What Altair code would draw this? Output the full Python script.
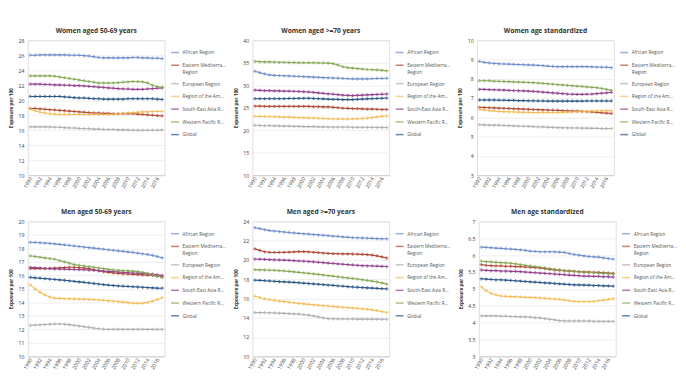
import altair as alt
import numpy as np
import pandas as pd

YEARS = list(range(1990, 2018))
YEAR_TICKS = list(range(1990, 2018, 2))
REGIONS = ["African Region", "Eastern Mediterranean Region", "European Region",
           "Region of the Americas", "South-East Asia Region", "Western Pacific Region", "Global"]
COLORS = ["#6F8FCB", "#B04A33", "#AFAFAF", "#F4BE5A", "#93408F", "#86AA57", "#2A5687"]

# ---- Women aged 50-69 years ----
w50_afr = [26.0, 26.0, 26.05, 26.05, 26.05, 26.05, 26.05, 26.05, 26.0, 26.0, 26.0, 25.95, 25.9, 25.8,
           25.7, 25.65, 25.65, 25.65, 25.65, 25.65, 25.65, 25.7, 25.7, 25.65, 25.65, 25.6, 25.6, 25.55]
w50_emr = [18.9, 18.9, 18.85, 18.8, 18.75, 18.7, 18.65, 18.6, 18.55, 18.5, 18.45, 18.4, 18.35, 18.3,
           18.3, 18.25, 18.25, 18.2, 18.2, 18.2, 18.2, 18.2, 18.15, 18.1, 18.05, 18.0, 17.95, 17.9]
w50_eur = [16.45, 16.45, 16.45, 16.45, 16.45, 16.4, 16.4, 16.35, 16.3, 16.3, 16.25, 16.2, 16.2, 16.15,
           16.15, 16.1, 16.1, 16.1, 16.05, 16.05, 16.05, 16.0, 16.0, 16.0, 16.0, 16.0, 16.0, 16.05]
w50_amr = [18.8, 18.6, 18.4, 18.3, 18.2, 18.15, 18.1, 18.1, 18.1, 18.1, 18.1, 18.1, 18.1, 18.1,
           18.1, 18.1, 18.1, 18.15, 18.2, 18.25, 18.3, 18.35, 18.4, 18.45, 18.45, 18.5, 18.5, 18.5]
w50_sea = [22.15, 22.15, 22.15, 22.1, 22.1, 22.05, 22.05, 22.0, 22.0, 21.95, 21.95, 21.9, 21.85, 21.8,
           21.75, 21.7, 21.65, 21.6, 21.55, 21.5, 21.5, 21.45, 21.45, 21.45, 21.5, 21.55, 21.6, 21.65]
w50_wpr = [23.25, 23.25, 23.25, 23.25, 23.25, 23.2, 23.1, 23.0, 22.9, 22.8, 22.7, 22.6, 22.5, 22.4,
           22.3, 22.3, 22.3, 22.3, 22.35, 22.4, 22.45, 22.5, 22.5, 22.45, 22.3, 22.0, 21.8, 21.7]
w50_glb = [20.5, 20.5, 20.5, 20.5, 20.5, 20.5, 20.5, 20.45, 20.4, 20.35, 20.3, 20.3, 20.25, 20.2,
           20.2, 20.15, 20.15, 20.15, 20.15, 20.15, 20.2, 20.2, 20.2, 20.2, 20.2, 20.2, 20.15, 20.1]

# ---- Women aged >=70 years ----
w70_afr = [33.1, 32.8, 32.5, 32.3, 32.2, 32.15, 32.1, 32.05, 32.0, 31.95, 31.9, 31.85, 31.8, 31.75,
           31.7, 31.65, 31.6, 31.55, 31.5, 31.45, 31.4, 31.4, 31.4, 31.4, 31.45, 31.5, 31.5, 31.55]
w70_emr = [25.35, 25.35, 25.3, 25.3, 25.3, 25.3, 25.3, 25.3, 25.3, 25.3, 25.3, 25.3, 25.25, 25.25,
           25.2, 25.2, 25.1, 25.0, 24.9, 24.85, 24.8, 24.8, 24.75, 24.7, 24.7, 24.65, 24.6, 24.6]
w70_eur = [21.1, 21.05, 21.0, 21.0, 20.95, 20.95, 20.9, 20.9, 20.85, 20.85, 20.8, 20.8, 20.8, 20.75,
           20.75, 20.7, 20.7, 20.7, 20.7, 20.7, 20.65, 20.65, 20.65, 20.65, 20.65, 20.6, 20.6, 20.6]
w70_amr = [23.1, 23.1, 23.05, 23.0, 23.0, 22.95, 22.9, 22.9, 22.85, 22.8, 22.8, 22.75, 22.7, 22.65,
           22.6, 22.55, 22.5, 22.5, 22.5, 22.5, 22.5, 22.55, 22.6, 22.7, 22.8, 22.95, 23.1, 23.2]
w70_sea = [28.9, 28.85, 28.8, 28.8, 28.75, 28.75, 28.7, 28.7, 28.65, 28.6, 28.55, 28.5, 28.4, 28.3,
           28.2, 28.1, 28.0, 27.9, 27.8, 27.75, 27.7, 27.75, 27.8, 27.85, 27.9, 27.95, 28.0, 28.05]
w70_wpr = [35.3, 35.25, 35.2, 35.2, 35.15, 35.1, 35.1, 35.05, 35.05, 35.0, 35.0, 35.0, 35.0, 34.95,
           34.95, 34.9, 34.8, 34.5, 34.1, 33.9, 33.8, 33.7, 33.6, 33.5, 33.45, 33.4, 33.3, 33.2]
w70_glb = [27.0, 27.0, 27.0, 27.0, 27.0, 27.0, 27.0, 27.05, 27.05, 27.1, 27.1, 27.1, 27.05, 27.0,
           26.95, 26.9, 26.85, 26.85, 26.8, 26.8, 26.8, 26.85, 26.9, 26.95, 27.0, 27.05, 27.1, 27.15]

# ---- Women age standardized ----
was_afr = [8.9, 8.85, 8.82, 8.8, 8.78, 8.77, 8.76, 8.75, 8.74, 8.73, 8.72, 8.71, 8.7, 8.68,
           8.66, 8.64, 8.63, 8.63, 8.63, 8.63, 8.63, 8.63, 8.63, 8.62, 8.61, 8.6, 8.6, 8.58]
was_emr = [6.52, 6.51, 6.5, 6.49, 6.48, 6.47, 6.46, 6.45, 6.44, 6.43, 6.42, 6.41, 6.4, 6.39,
           6.38, 6.37, 6.36, 6.35, 6.34, 6.33, 6.32, 6.31, 6.3, 6.28, 6.26, 6.24, 6.22, 6.2]
was_eur = [5.62, 5.61, 5.6, 5.6, 5.59, 5.58, 5.57, 5.56, 5.55, 5.54, 5.53, 5.52, 5.51, 5.5,
           5.49, 5.48, 5.47, 5.46, 5.46, 5.45, 5.45, 5.44, 5.44, 5.43, 5.43, 5.42, 5.42, 5.42]
was_amr = [6.42, 6.38, 6.35, 6.33, 6.31, 6.3, 6.29, 6.28, 6.27, 6.26, 6.26, 6.25, 6.25, 6.25,
           6.25, 6.25, 6.25, 6.26, 6.27, 6.28, 6.29, 6.3, 6.31, 6.32, 6.33, 6.34, 6.35, 6.35]
was_sea = [7.45, 7.45, 7.44, 7.43, 7.42, 7.41, 7.4, 7.39, 7.38, 7.37, 7.36, 7.35, 7.33, 7.31,
           7.29, 7.27, 7.25, 7.23, 7.21, 7.2, 7.19, 7.19, 7.2, 7.21, 7.23, 7.25, 7.27, 7.3]
was_wpr = [7.9, 7.9, 7.9, 7.88, 7.87, 7.86, 7.85, 7.84, 7.83, 7.82, 7.81, 7.8, 7.78, 7.76,
           7.74, 7.72, 7.7, 7.68, 7.66, 7.64, 7.62, 7.6, 7.58, 7.56, 7.54, 7.5, 7.45, 7.4]
was_glb = [6.9, 6.9, 6.9, 6.9, 6.89, 6.89, 6.88, 6.88, 6.87, 6.87, 6.86, 6.86, 6.85, 6.85,
           6.84, 6.84, 6.84, 6.84, 6.84, 6.84, 6.84, 6.84, 6.85, 6.85, 6.85, 6.85, 6.85, 6.85]

# ---- Men aged 50-69 years ----
m50_afr = [18.45, 18.44, 18.42, 18.4, 18.37, 18.34, 18.3, 18.26, 18.22, 18.18, 18.14, 18.1, 18.06, 18.02,
           17.98, 17.94, 17.9, 17.86, 17.82, 17.78, 17.74, 17.7, 17.65, 17.6, 17.55, 17.48, 17.4, 17.3]
m50_emr = [16.5, 16.5, 16.5, 16.5, 16.52, 16.54, 16.56, 16.58, 16.6, 16.6, 16.58, 16.55, 16.5, 16.42,
           16.35, 16.28, 16.22, 16.18, 16.15, 16.12, 16.1, 16.08, 16.06, 16.04, 16.02, 16.0, 15.95, 15.9]
m50_eur = [12.3, 12.32, 12.34, 12.36, 12.38, 12.4, 12.4, 12.38, 12.35, 12.3, 12.25, 12.2, 12.15, 12.1,
           12.05, 12.02, 12.0, 12.0, 12.0, 12.0, 12.0, 12.0, 12.0, 12.0, 12.0, 12.0, 12.0, 12.0]
m50_amr = [15.3, 15.0, 14.75, 14.55, 14.4, 14.32, 14.3, 14.28, 14.27, 14.26, 14.25, 14.24, 14.22, 14.2,
           14.18, 14.15, 14.12, 14.1, 14.06, 14.02, 13.98, 13.95, 13.93, 13.95, 14.0, 14.1, 14.22, 14.35]
m50_sea = [16.6, 16.58, 16.55, 16.52, 16.5, 16.48, 16.47, 16.46, 16.45, 16.44, 16.43, 16.42, 16.4, 16.38,
           16.35, 16.32, 16.3, 16.28, 16.25, 16.22, 16.2, 16.18, 16.16, 16.14, 16.12, 16.1, 16.05, 16.0]
m50_wpr = [17.45, 17.4, 17.35, 17.3, 17.25, 17.2, 17.1, 17.0, 16.9, 16.8, 16.75, 16.7, 16.65, 16.6,
           16.55, 16.5, 16.45, 16.4, 16.38, 16.36, 16.34, 16.32, 16.28, 16.22, 16.15, 16.05, 15.95, 15.85]
m50_glb = [15.85, 15.82, 15.79, 15.76, 15.73, 15.7, 15.67, 15.64, 15.6, 15.56, 15.52, 15.48, 15.44, 15.4,
           15.36, 15.32, 15.28, 15.25, 15.22, 15.2, 15.18, 15.16, 15.14, 15.12, 15.1, 15.08, 15.06, 15.05]

# ---- Men aged >=70 years ----
m70_afr = [23.35, 23.25, 23.15, 23.05, 23.0, 22.95, 22.9, 22.85, 22.8, 22.76, 22.72, 22.68, 22.64, 22.6,
           22.56, 22.52, 22.48, 22.44, 22.4, 22.36, 22.32, 22.3, 22.28, 22.26, 22.24, 22.22, 22.2, 22.2]
m70_emr = [21.15, 21.0, 20.85, 20.8, 20.78, 20.78, 20.8, 20.82, 20.84, 20.86, 20.86, 20.84, 20.8, 20.76,
           20.72, 20.68, 20.66, 20.65, 20.64, 20.63, 20.62, 20.6, 20.58, 20.55, 20.5, 20.42, 20.32, 20.2]
m70_eur = [14.55, 14.54, 14.53, 14.52, 14.5, 14.48, 14.46, 14.44, 14.41, 14.38, 14.34, 14.28, 14.2, 14.1,
           14.0, 13.92, 13.9, 13.88, 13.88, 13.88, 13.88, 13.87, 13.87, 13.86, 13.86, 13.85, 13.85, 13.85]
m70_amr = [16.25, 16.1, 15.98, 15.88, 15.8, 15.74, 15.68, 15.62, 15.56, 15.5, 15.45, 15.4, 15.35, 15.3,
           15.26, 15.22, 15.18, 15.14, 15.1, 15.06, 15.02, 14.98, 14.94, 14.88, 14.82, 14.74, 14.65, 14.55]
m70_sea = [20.1, 20.08, 20.06, 20.04, 20.02, 20.0, 19.98, 19.96, 19.93, 19.9, 19.87, 19.84, 19.8, 19.76,
           19.72, 19.68, 19.64, 19.6, 19.56, 19.52, 19.48, 19.45, 19.42, 19.4, 19.38, 19.36, 19.34, 19.32]
m70_wpr = [19.0, 18.98, 18.96, 18.94, 18.92, 18.9, 18.86, 18.82, 18.77, 18.72, 18.67, 18.62, 18.56, 18.5,
           18.44, 18.38, 18.32, 18.26, 18.2, 18.14, 18.08, 18.02, 17.95, 17.88, 17.8, 17.72, 17.62, 17.5]
m70_glb = [17.9, 17.88, 17.85, 17.82, 17.79, 17.76, 17.73, 17.7, 17.67, 17.64, 17.6, 17.56, 17.52, 17.48,
           17.44, 17.4, 17.36, 17.32, 17.28, 17.24, 17.2, 17.17, 17.14, 17.11, 17.08, 17.05, 17.02, 17.0]

# ---- Men age standardized ----
mas_afr = [6.24, 6.23, 6.22, 6.21, 6.2, 6.19, 6.18, 6.17, 6.16, 6.14, 6.12, 6.11, 6.1, 6.1,
           6.1, 6.1, 6.09, 6.08, 6.05, 6.02, 6.0, 5.98, 5.96, 5.95, 5.94, 5.92, 5.9, 5.88]
mas_emr = [5.72, 5.7, 5.69, 5.68, 5.68, 5.67, 5.67, 5.66, 5.66, 5.65, 5.64, 5.63, 5.62, 5.6,
           5.58, 5.56, 5.55, 5.54, 5.53, 5.52, 5.51, 5.5, 5.5, 5.49, 5.49, 5.48, 5.47, 5.46]
mas_eur = [4.2, 4.2, 4.2, 4.2, 4.19, 4.19, 4.18, 4.18, 4.17, 4.17, 4.16, 4.15, 4.14, 4.12,
           4.1, 4.08, 4.06, 4.05, 4.05, 4.05, 4.05, 4.05, 4.05, 4.04, 4.04, 4.04, 4.04, 4.04]
mas_amr = [5.06, 4.95, 4.87, 4.82, 4.79, 4.78, 4.77, 4.77, 4.76, 4.75, 4.75, 4.74, 4.73, 4.72,
           4.71, 4.7, 4.69, 4.67, 4.65, 4.63, 4.62, 4.62, 4.62, 4.63, 4.65, 4.67, 4.69, 4.71]
mas_sea = [5.56, 5.55, 5.54, 5.54, 5.53, 5.53, 5.52, 5.52, 5.51, 5.5, 5.49, 5.48, 5.47, 5.46,
           5.45, 5.44, 5.43, 5.42, 5.41, 5.4, 5.39, 5.38, 5.38, 5.37, 5.37, 5.36, 5.36, 5.35]
mas_wpr = [5.82, 5.81, 5.8, 5.79, 5.78, 5.77, 5.76, 5.74, 5.72, 5.7, 5.68, 5.66, 5.64, 5.62,
           5.6, 5.58, 5.56, 5.54, 5.53, 5.52, 5.51, 5.5, 5.49, 5.48, 5.47, 5.46, 5.45, 5.44]
mas_glb = [5.3, 5.29, 5.28, 5.27, 5.27, 5.26, 5.25, 5.24, 5.23, 5.22, 5.21, 5.2, 5.19, 5.18,
           5.17, 5.16, 5.15, 5.14, 5.13, 5.12, 5.12, 5.11, 5.11, 5.1, 5.1, 5.09, 5.09, 5.08]

PW, PH = 145, 143


def panel(title, series, ymin, ymax, step):
    rows = []
    for reg, vals in zip(REGIONS, series):
        for yr, v in zip(YEARS, vals):
            rows.append({"year": yr, "value": v, "region": reg})
    df = pd.DataFrame(rows)
    ticks = [float(t) for t in np.arange(ymin, ymax + step / 2, step)]
    color = alt.Color(
        "region:N",
        scale=alt.Scale(domain=REGIONS, range=COLORS),
        legend=alt.Legend(title=None, orient="none", legendX=PW + 6, legendY=8,
                          symbolType="stroke", symbolStrokeWidth=1.6,
                          symbolSize=70, labelFontSize=5, labelColor="#555555", labelLimit=46,
                          rowPadding=4.5, labelOffset=3,
                          labelExpr="datum.label == 'Eastern Mediterranean Region' ? "
                                    "['Eastern Mediterranean', 'Region'] : datum.label"),
    )
    base = alt.Chart(df).encode(
        x=alt.X("year:O", title=None,
                axis=alt.Axis(values=YEAR_TICKS, labelAngle=300, labelFontSize=5.5, labelColor="#404040",
                              ticks=False, domainColor="#d0d0d0", grid=False, labelPadding=2)),
        y=alt.Y("value:Q", title="Exposure per 100",
                scale=alt.Scale(domain=[ymin, ymax], nice=False, zero=False),
                axis=alt.Axis(values=ticks, format=".1~f", labelFontSize=5.5, labelColor="#404040",
                              ticks=False, domain=False, grid=True, gridColor="#e3e3e3", gridWidth=0.6,
                              titleFontSize=5, titleFontWeight="bold", titleColor="#333333",
                              titlePadding=5, labelPadding=4)),
        color=color,
    )
    line = base.mark_line(strokeWidth=1.2)
    pts = base.mark_point(shape="cross", filled=True, size=12)
    return alt.layer(line, pts).properties(
        width=PW, height=PH,
        title=alt.TitleParams(title, fontSize=7, fontWeight="bold", color="#333333", offset=5),
    )


p1 = panel("Women aged 50-69 years", [w50_afr, w50_emr, w50_eur, w50_amr, w50_sea, w50_wpr, w50_glb], 10, 28, 2)
p2 = panel("Women aged >=70 years", [w70_afr, w70_emr, w70_eur, w70_amr, w70_sea, w70_wpr, w70_glb], 10, 40, 5)
p3 = panel("Women age standardized", [was_afr, was_emr, was_eur, was_amr, was_sea, was_wpr, was_glb], 3, 10, 1)
p4 = panel("Men aged 50-69 years", [m50_afr, m50_emr, m50_eur, m50_amr, m50_sea, m50_wpr, m50_glb], 10, 20, 1)
p5 = panel("Men aged >=70 years", [m70_afr, m70_emr, m70_eur, m70_amr, m70_sea, m70_wpr, m70_glb], 10, 24, 2)
p6 = panel("Men age standardized", [mas_afr, mas_emr, mas_eur, mas_amr, mas_sea, mas_wpr, mas_glb], 3, 7, 0.5)

row1 = alt.hconcat(p1, p2, p3, spacing=6).resolve_scale(color="independent", y="independent")
row2 = alt.hconcat(p4, p5, p6, spacing=6).resolve_scale(color="independent", y="independent")

chart = (
    alt.vconcat(row1, row2, spacing=18)
    .resolve_scale(color="independent")
    .properties(padding={"left": 0, "top": 8, "right": 0, "bottom": 0}, background="white")
    .configure_view(stroke=None)
    .configure(font="Open Sans")
)

chart.save("out.html", embed_options={"renderer": "svg", "actions": False})
